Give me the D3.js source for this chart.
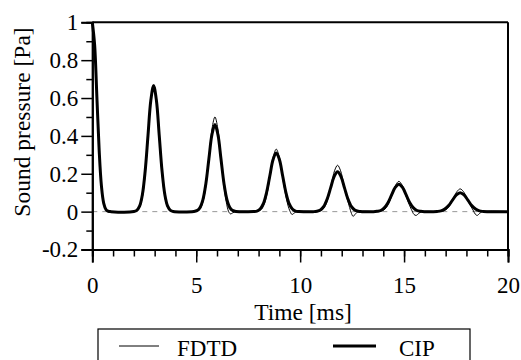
<!DOCTYPE html>
<html><head><meta charset="utf-8">
<script src="https://cdn.jsdelivr.net/npm/d3@7"></script>
<style>body{margin:0;background:#fff}svg{display:block}</style>
</head><body>
<svg id="c" width="521" height="360"></svg>
<script>
// ---- data ----
const timeCIP = [0,0.11,0.22,0.33,0.44,0.55,0.66,0.77,0.9,
 2.005,2.14,2.275,2.41,2.545,2.68,2.815,2.95,3.085,3.22,3.355,3.49,3.625,3.76,3.895,
 4.885,5.03,5.175,5.32,5.465,5.61,5.755,5.9,6.045,6.19,6.335,6.48,6.625,6.77,6.915,
 7.765,7.92,8.075,8.23,8.385,8.54,8.695,8.85,9.005,9.16,9.315,9.47,9.625,9.78,9.935,
 10.645,10.81,10.975,11.14,11.305,11.47,11.635,11.8,11.965,12.13,12.295,12.46,12.625,12.79,12.955,
 13.525,13.7,13.875,14.05,14.225,14.4,14.575,14.75,14.925,15.1,15.275,15.45,15.625,15.8,15.975,
 16.405,16.59,16.775,16.96,17.145,17.33,17.515,17.7,17.885,18.07,18.255,18.44,18.625,18.81,18.995,20];
const pressureCIP = [1,0.883,0.607,0.325,0.135,0.044,0.011,0.002,0,
 0.001,0.007,0.029,0.090,0.216,0.403,0.587,0.665,0.587,0.403,0.216,0.090,0.029,0.007,0.001,
 0.001,0.005,0.020,0.062,0.149,0.279,0.406,0.46,0.406,0.279,0.149,0.062,0.020,0.005,0.001,
 0.001,0.003,0.014,0.042,0.101,0.188,0.274,0.31,0.274,0.188,0.101,0.042,0.014,0.003,0.001,
 0,0.002,0.009,0.028,0.068,0.127,0.185,0.21,0.185,0.127,0.068,0.028,0.009,0.002,0,
 0,0.002,0.006,0.020,0.047,0.088,0.128,0.145,0.128,0.088,0.047,0.020,0.006,0.002,0,
 0,0.001,0.004,0.014,0.032,0.061,0.088,0.10,0.088,0.061,0.032,0.014,0.004,0.001,0,0];

const timeFDTD = [0,0.11,0.22,0.33,0.44,0.55,0.66,0.77,0.9,
 2.04,2.17,2.30,2.43,2.56,2.69,2.82,2.95,3.08,3.21,3.34,3.47,3.60,3.73,3.86,
 4.955,5.09,5.225,5.36,5.495,5.63,5.765,5.9,6.035,6.17,6.305,6.44,6.56,6.65,6.76,6.9,
 7.87,8.01,8.15,8.29,8.43,8.57,8.71,8.85,8.99,9.13,9.27,9.41,9.52,9.61,9.72,9.86,
 10.785,10.93,11.075,11.22,11.365,11.51,11.655,11.8,11.945,12.09,12.235,12.38,12.47,12.55,12.66,12.8,
 13.7,13.85,14.0,14.15,14.3,14.45,14.6,14.75,14.9,15.05,15.2,15.35,15.48,15.58,15.7,15.85,
 16.615,16.77,16.925,17.08,17.235,17.39,17.545,17.7,17.855,18.01,18.165,18.32,18.43,18.52,18.63,18.78,20];
const pressureFDTD = [1,0.883,0.607,0.325,0.135,0.044,0.011,0.002,0,
 0.001,0.007,0.029,0.091,0.218,0.406,0.591,0.67,0.591,0.406,0.218,0.091,0.029,0.007,0.001,
 0.001,0.006,0.022,0.068,0.162,0.303,0.441,0.50,0.441,0.303,0.162,0.055,0.0,-0.012,-0.006,0,
 0.001,0.004,0.014,0.045,0.107,0.200,0.291,0.33,0.291,0.200,0.107,0.035,0.0,-0.015,-0.007,0,
 0.001,0.003,0.011,0.033,0.080,0.149,0.216,0.245,0.216,0.149,0.080,0.022,-0.01,-0.025,-0.012,0,
 0,0.002,0.007,0.022,0.052,0.097,0.141,0.16,0.141,0.097,0.05,0.012,-0.015,-0.02,-0.01,0,
 0,0.001,0.005,0.016,0.039,0.073,0.106,0.12,0.106,0.073,0.037,0.008,-0.014,-0.02,-0.01,0,0];

const xMajorTicks = [0,5,10,15,20];
const xMinorTicks = d3.range(0,21,1);
const yMajorTicks = [-0.2,0,0.2,0.4,0.6,0.8,1];
const yMinorTicks = [-0.1,0.1,0.3,0.5,0.7,0.9];
const yTickLabels = ["-0.2","0","0.2","0.4","0.6","0.8","1"];
const seriesNames = ["FDTD","CIP"];
const xTitle = "Time [ms]";
const yTitle = "Sound pressure [Pa]";

// ---- drawing ----
const FONT = '"Liberation Serif"';
const svg = d3.select("#c");
const L=92.3, R=508, T=22.3, B=249.5;
const x = d3.scaleLinear().domain([0,20]).range([L,R]);
const y = d3.scaleLinear().domain([-0.2,1]).range([B,T]);
const fs = 23;

svg.append("line").attr("x1",x(0)).attr("x2",x(20)).attr("y1",y(0)).attr("y2",y(0))
  .attr("stroke","#999").attr("stroke-width",1).attr("stroke-dasharray","5,5");

const line = d3.line().curve(d3.curveCatmullRom.alpha(0.5));
const ptsF = timeFDTD.map((t,i)=>[x(t),y(pressureFDTD[i])]);
const ptsC = timeCIP.map((t,i)=>[x(t),y(pressureCIP[i])]);
svg.append("path").attr("d",line(ptsC)).attr("fill","none").attr("stroke","#000").attr("stroke-width",3).attr("stroke-linejoin","round");
svg.append("path").attr("d",line(ptsF)).attr("fill","none").attr("stroke","#000").attr("stroke-width",1);

svg.append("line").attr("x1",L).attr("x2",R).attr("y1",T).attr("y2",T).attr("stroke","#000").attr("stroke-width",2);
svg.append("line").attr("x1",R).attr("x2",R).attr("y1",T).attr("y2",B).attr("stroke","#000").attr("stroke-width",2);

const gx = svg.append("g").attr("transform",`translate(0,${B})`);
gx.call(d3.axisBottom(x).tickValues(xMinorTicks).tickSize(7).tickFormat(""));
const gx2 = svg.append("g").attr("transform",`translate(0,${B})`);
gx2.call(d3.axisBottom(x).tickValues(xMajorTicks).tickSize(13).tickPadding(14).tickFormat(d3.format("d")));
const gy = svg.append("g").attr("transform",`translate(${L},0)`);
gy.call(d3.axisLeft(y).tickValues(yMinorTicks).tickSize(6).tickFormat(""));
const gy2 = svg.append("g").attr("transform",`translate(${L},0)`);
gy2.call(d3.axisLeft(y).tickValues(yMajorTicks).tickSize(11).tickPadding(3).tickFormat((d,i)=>yTickLabels[i]));
svg.selectAll("g").attr("font-family",null).attr("font-size",null);
svg.selectAll("g path.domain").attr("stroke","#000").attr("stroke-width",2);
svg.selectAll("g .tick line").attr("stroke","#000").attr("stroke-width",1.5);
svg.selectAll("g .tick text").attr("fill","#000").style("font-family",FONT).style("font-size",fs+"px");

svg.append("text").attr("x",303).attr("y",320).attr("text-anchor","middle").style("font-family",FONT).style("font-size",(fs+0.5)+"px").text(xTitle);
svg.append("text").attr("transform","translate(30,122) rotate(-90)").attr("text-anchor","middle").style("font-family",FONT).style("font-size",(fs+0.5)+"px").text(yTitle);

svg.append("rect").attr("x",98).attr("y",329).attr("width",372).attr("height",60).attr("fill","none").attr("stroke","#000").attr("stroke-width",1.2);
svg.append("line").attr("x1",119).attr("x2",159).attr("y1",346).attr("y2",346).attr("stroke","#000").attr("stroke-width",1);
svg.append("text").attr("x",177).attr("y",356).style("font-family",FONT).style("font-size",fs+"px").text(seriesNames[0]);
svg.append("line").attr("x1",333).attr("x2",376).attr("y1",346).attr("y2",346).attr("stroke","#000").attr("stroke-width",3);
svg.append("text").attr("x",399).attr("y",356).style("font-family",FONT).style("font-size",fs+"px").text(seriesNames[1]);
</script>
</body></html>
